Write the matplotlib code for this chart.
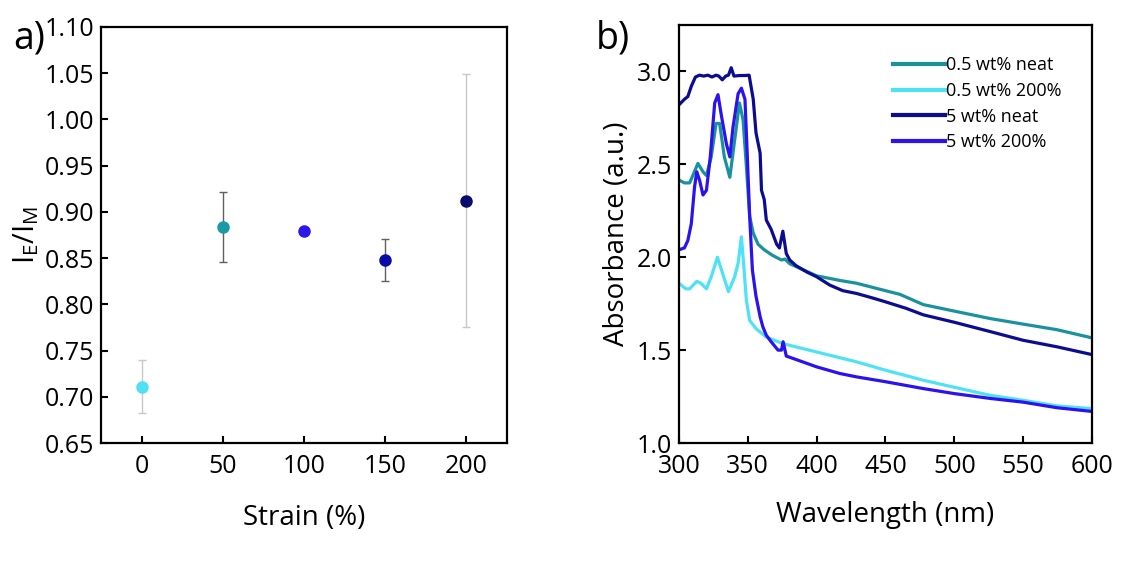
import matplotlib
matplotlib.use("Agg")
import matplotlib.pyplot as plt

plt.rcParams['font.family'] = ['Open Sans', 'DejaVu Sans']
plt.rcParams['mathtext.fontset'] = 'custom'
plt.rcParams['mathtext.rm'] = 'Open Sans'

# ---- panel a) data ----
strain = [0, 50, 100, 150, 200]
ratio = [0.711, 0.884, 0.879, 0.848, 0.912]
ratio_err = [0.029, 0.038, 0.0, 0.023, 0.137]
point_colors = ['#4fe0f2', '#1a9aa6', '#2c16e8', '#0a0aa6', '#0b0b6e']
err_colors = ['#c8c8c8', '#606060', '#606060', '#606060', '#c8c8c8']

# ---- panel b) data ----
labels = ['0.5 wt% neat', '0.5 wt% 200%', '5 wt% neat', '5 wt% 200%']
line_colors = ['#1a929e', '#4fe2f5', '#0c0c92', '#2b12ee']

wl_05_neat = [300, 304, 307.8, 310.7, 313.8, 317.5, 320, 323.5, 327, 329.6, 333, 337, 340.5,
              344, 346.6, 349, 351.4, 354, 357.5, 362, 368, 374.5, 377, 380.5, 388, 400,
              417, 429, 450, 460.6, 477.5, 500, 526, 550, 574.5, 600]
abs_05_neat = [2.416, 2.40, 2.40, 2.45, 2.505, 2.46, 2.44, 2.54, 2.72, 2.72, 2.54, 2.43, 2.63,
               2.83, 2.74, 2.49, 2.22, 2.13, 2.07, 2.04, 2.01, 1.985, 1.99, 1.965, 1.94, 1.90,
               1.875, 1.86, 1.82, 1.80, 1.745, 1.71, 1.67, 1.64, 1.61, 1.566]

wl_05_200 = [300, 305, 307.8, 313, 316, 320, 323.5, 328, 331, 336, 340.5, 343, 345.4, 347,
             349, 351.4, 356, 363.5, 375.5, 400, 429, 450, 477.5, 500, 526, 550, 574.5, 600]
abs_05_200 = [1.86, 1.83, 1.83, 1.87, 1.86, 1.83, 1.895, 2.00, 1.93, 1.815, 1.895, 1.967, 2.11,
              1.967, 1.77, 1.66, 1.616, 1.57, 1.535, 1.49, 1.437, 1.392, 1.338, 1.30, 1.257,
              1.23, 1.20, 1.185]

wl_5_neat = [300, 304, 306.5, 309, 312, 315, 318, 321, 324, 327, 329, 331.5, 334, 336, 338,
             340, 344, 348, 351, 354, 356, 359, 360, 362, 363.5, 367, 371, 373, 375.5, 378,
             380.5, 385, 393, 400, 409.6, 419, 429, 441, 450, 465, 477.5, 500, 526, 550,
             574.5, 600]
abs_5_neat = [2.82, 2.85, 2.865, 2.92, 2.97, 2.98, 2.975, 2.98, 2.97, 2.98, 2.975, 2.955, 2.975,
              2.98, 3.02, 2.975, 2.978, 2.978, 2.98, 2.85, 2.67, 2.56, 2.36, 2.31, 2.20, 2.15,
              2.07, 2.05, 2.14, 2.02, 1.985, 1.955, 1.92, 1.895, 1.85, 1.82, 1.805, 1.78, 1.76,
              1.725, 1.69, 1.65, 1.60, 1.553, 1.518, 1.476]

wl_5_200 = [300, 304, 306.5, 309, 311.4, 313, 315, 317.5, 320, 322.8, 326, 328.4, 331, 334.5,
            337, 339.3, 343, 345.4, 348, 349.5, 351.4, 353.4, 356, 359, 361, 363.5, 367, 372,
            374.5, 375.7, 378, 383, 400, 417, 429, 450, 477.5, 500, 526, 550, 574.5, 600]
abs_5_200 = [2.04, 2.05, 2.09, 2.18, 2.38, 2.46, 2.415, 2.335, 2.36, 2.54, 2.83, 2.875, 2.757,
             2.61, 2.54, 2.70, 2.88, 2.91, 2.85, 2.58, 2.22, 1.93, 1.79, 1.68, 1.625, 1.58,
             1.545, 1.50, 1.50, 1.545, 1.468, 1.455, 1.41, 1.374, 1.356, 1.33, 1.293, 1.266,
             1.24, 1.22, 1.19, 1.17]

series = [(wl_05_neat, abs_05_neat), (wl_05_200, abs_05_200),
          (wl_5_neat, abs_5_neat), (wl_5_200, abs_5_200)]

fig = plt.figure(figsize=(11.41, 5.72), dpi=100)
ax1 = fig.add_axes([0.0885, 0.2255, 0.3559, 0.7273])
ax2 = fig.add_axes([0.595, 0.2255, 0.362, 0.7308])

# ---- panel a ----
for x, y, e, c, ec in zip(strain, ratio, ratio_err, point_colors, err_colors):
    if e > 0:
        ax1.errorbar(x, y, yerr=e, fmt='none', ecolor=ec, elinewidth=1.0,
                     capsize=3, capthick=1.0, zorder=1)
    ax1.plot(x, y, 'o', color=c, markersize=8, zorder=2)

ax1.set_xlim(-25, 225)
ax1.set_ylim(0.65, 1.10)
ax1.set_xticks(strain)
ax1.set_yticks([0.65, 0.70, 0.75, 0.80, 0.85, 0.90, 0.95, 1.00, 1.05, 1.10])
ax1.set_yticklabels(['%.2f' % v for v in ax1.get_yticks()])
ax1.set_xlabel('Strain (%)', fontsize=20, labelpad=18)
ax1.set_ylabel(r'$\mathregular{I_E/I_M}$', fontsize=21, labelpad=2)

# ---- panel b ----
for (x, y), c, lab in zip(series, line_colors, labels):
    ax2.plot(x, y, color=c, linewidth=2.3, label=lab)

ax2.set_xlim(300, 600)
ax2.set_ylim(1.0, 3.25)
ax2.set_xticks([300, 350, 400, 450, 500, 550, 600])
ax2.set_yticks([1.0, 1.5, 2.0, 2.5, 3.0])
ax2.set_yticklabels(['%.1f' % v for v in ax2.get_yticks()])
ax2.set_xlabel('Wavelength (nm)', fontsize=20, labelpad=16)
ax2.set_ylabel('Absorbance (a.u.)', fontsize=20, labelpad=4)
leg = ax2.legend(loc='upper left', bbox_to_anchor=(0.518, 0.925), frameon=False, fontsize=13,
                 handlelength=2.9, handletextpad=0.05, labelspacing=0.42,
                 borderpad=0, borderaxespad=0)
for h in leg.get_lines():
    h.set_linewidth(3)

for ax in (ax1, ax2):
    for sp in ax.spines.values():
        sp.set_linewidth(1.6)
    ax.tick_params(direction='in', length=5, width=1.5, labelsize=18)
    ax.tick_params(axis='x', pad=8)
    ax.tick_params(axis='y', pad=5)

fig.text(0.012, 0.915, 'a)', fontsize=27)
fig.text(0.522, 0.915, 'b)', fontsize=27)

fig.savefig('out.png', dpi=100)
